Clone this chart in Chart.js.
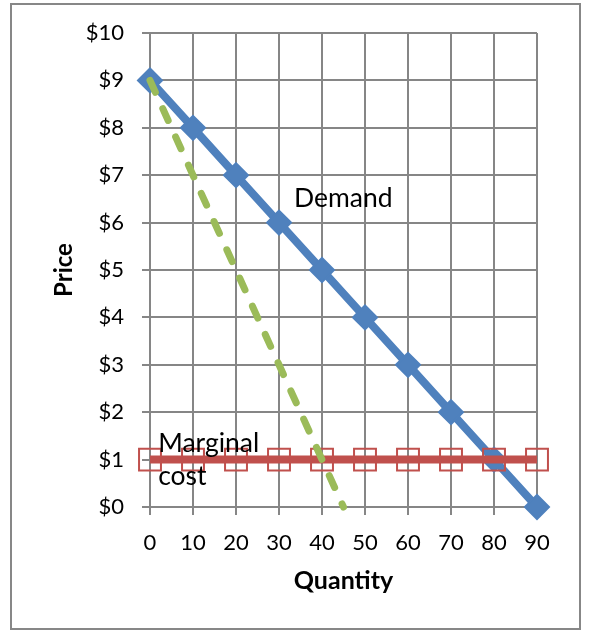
<!DOCTYPE html>
<html>
<head>
<meta charset="utf-8">
<script src="https://cdn.jsdelivr.net/npm/chart.js@4"></script>
<style>
  body { margin: 0; background: #fff; }
  #frame {
    position: absolute; left: 10px; top: 3px;
    width: 567px; height: 623px;
    border: 2px solid #878787;
  }
  #chart { position: absolute; left: 0; top: 0; }
</style>
</head>
<body>
<div id="frame"></div>
<canvas id="chart" width="594" height="635"></canvas>
<script>
"use strict";

// Chart data.
const quantities = [0, 10, 20, 30, 40, 50, 60, 70, 80, 90];
const demandPrices = [9, 8, 7, 6, 5, 4, 3, 2, 1, 0];
const marginalCost = [1, 1, 1, 1, 1, 1, 1, 1, 1, 1];
const revenueQuantities = [0, 10, 20, 30, 40, 45];
const revenuePrices = [9, 7, 5, 3, 1, 0];
const priceTicks = [0, 1, 2, 3, 4, 5, 6, 7, 8, 9, 10];

// Text labels placed in data units (left edge, baseline).
const demandLabel = { text: "Demand", q: 33.5, p: 6.33 };
const costLabel = [
  { text: "Marginal", q: 1.9, p: 1.16 },
  { text: "cost", q: 1.9, p: 0.46 },
];

const FONT = "Lato, 'Open Sans', sans-serif";
const GRID = "#868686";

const toPoints = (xs, ys) => xs.map((x, i) => ({ x: x, y: ys[i] }));

// Draws the free text boxes on top of the chart.
const textLabels = {
  id: "textLabels",
  afterDraw(chart) {
    const { ctx, scales } = chart;
    ctx.save();
    ctx.fillStyle = "#000";
    ctx.font = "26.5px " + FONT;
    ctx.textAlign = "left";
    ctx.textBaseline = "alphabetic";
    [demandLabel, ...costLabel].forEach((l) => {
      ctx.fillText(l.text, scales.x.getPixelForValue(l.q), scales.y.getPixelForValue(l.p));
    });
    ctx.restore();
  },
};

const ctx = document.getElementById("chart");
const myChart = new Chart(ctx, {
  type: "line",
  data: {
    datasets: [
      {
        label: "Demand",
        data: toPoints(quantities, demandPrices),
        borderColor: "#4F81BD",
        backgroundColor: "#4F81BD",
        borderWidth: 8,
        pointStyle: "rectRot",
        pointRadius: 12,
        pointBorderWidth: 2,
        pointBorderColor: "#4F81BD",
        pointBackgroundColor: "#4F81BD",
        clip: false,
        order: 3,
      },
      {
        label: "Marginal cost",
        data: toPoints(quantities, marginalCost),
        borderColor: "#C0504D",
        backgroundColor: "rgba(0,0,0,0)",
        borderWidth: 8,
        pointStyle: "rect",
        pointRadius: 15.5,
        pointBorderWidth: 2,
        pointBorderColor: "#C0504D",
        pointBackgroundColor: "rgba(0,0,0,0)",
        clip: false,
        order: 2,
      },
      {
        label: "Marginal revenue",
        data: toPoints(revenueQuantities, revenuePrices),
        borderColor: "#9BBB59",
        borderWidth: 7,
        borderDash: [13, 18],
        borderCapStyle: "round",
        pointRadius: 0,
        clip: false,
        order: 1,
      },
    ],
  },
  options: {
    responsive: false,
    animation: false,
    devicePixelRatio: 1,
    layout: { padding: { left: 46, top: 33, right: 57, bottom: 35 } },
    plugins: {
      legend: { display: false },
      tooltip: { enabled: false },
    },
    scales: {
      x: {
        type: "linear",
        min: 0,
        max: 90,
        ticks: {
          stepSize: 10,
          color: "#000",
          font: { family: FONT, size: 22 },
          padding: 15,
        },
        grid: { color: GRID, lineWidth: 2, tickLength: 8 },
        border: { color: GRID, width: 2 },
        title: {
          display: true,
          text: "Quantity",
          color: "#000",
          font: { family: FONT, size: 25, weight: "bold" },
        },
        afterFit: (scale) => { scale.height = 93; },
      },
      y: {
        min: 0,
        max: 10,
        afterBuildTicks: (scale) => { scale.ticks = priceTicks.map((v) => ({ value: v })); },
        ticks: {
          color: "#000",
          font: { family: FONT, size: 22 },
          padding: 18,
          callback: (v) => "$" + v,
        },
        grid: { color: GRID, lineWidth: 2, tickLength: 8 },
        border: { color: GRID, width: 2 },
        title: {
          display: true,
          text: "Price",
          color: "#000",
          font: { family: FONT, size: 24, weight: "bold" },
        },
        afterFit: (scale) => { scale.width = 104; },
      },
    },
  },
  plugins: [textLabels],
});
</script>
</body>
</html>
